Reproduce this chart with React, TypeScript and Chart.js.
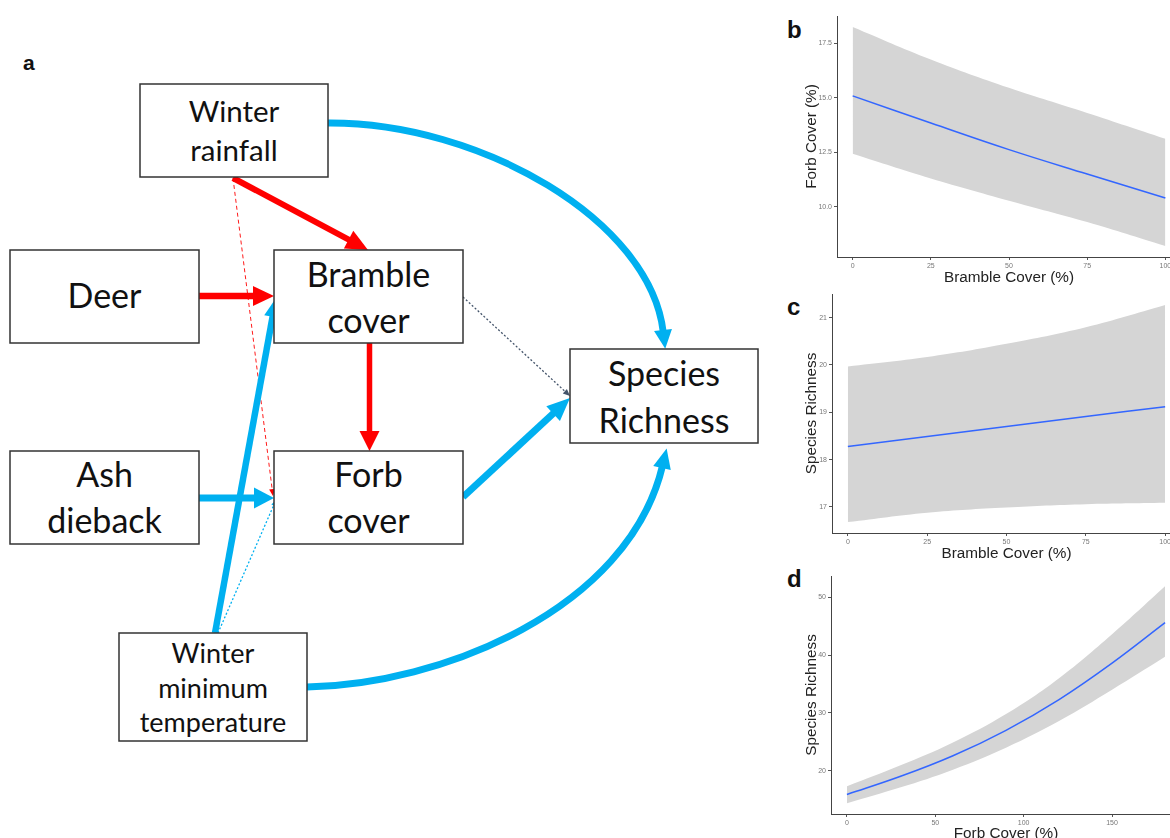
import React, { useEffect, useRef } from "react";
import Chart from "chart.js/auto";

// ---------- Panel b: Forb cover vs Bramble cover ----------
const bX = [0, 25, 50, 75, 100];
const bFit = [15.08, 13.84, 12.62, 11.5, 10.4];
const bUpper = [18.24, 16.75, 15.45, 14.3, 13.12];
const bLower = [12.43, 11.3, 10.28, 9.3, 8.2];
const bXTicks = [0, 25, 50, 75, 100];
const bYTicks = [10, 12.5, 15, 17.5];

// ---------- Panel c: Species richness vs Bramble cover ----------
const cX = [0, 25, 50, 75, 100];
const cFit = [18.28, 18.49, 18.7, 18.91, 19.12];
const cUpper = [19.97, 20.17, 20.45, 20.8, 21.27];
const cLower = [16.68, 16.88, 16.99, 17.06, 17.09];
const cXTicks = [0, 25, 50, 75, 100];
const cYTicks = [17, 18, 19, 20, 21];

// ---------- Panel d: Species richness vs Forb cover ----------
const dX = [0, 30, 60, 90, 120, 150, 180];
const dFit = [15.9, 19.0, 22.6, 27.0, 32.3, 38.6, 45.6];
const dUpper = [17.3, 20.9, 24.9, 29.8, 36.0, 43.6, 51.9];
const dLower = [14.4, 17.1, 20.2, 24.0, 28.6, 34.0, 39.7];
const dXTicks = [0, 50, 100, 150];
const dYTicks = [20, 30, 40, 50];

// ---------- Panel a: path diagram ----------
const nodeLabels: Record<string, string[]> = {
  rain: ["Winter", "rainfall"],
  deer: ["Deer"],
  bramble: ["Bramble", "cover"],
  ash: ["Ash", "dieback"],
  forb: ["Forb", "cover"],
  temp: ["Winter", "minimum", "temperature"],
  rich: ["Species", "Richness"],
};

const RED = "#FF0000";
const BLUE = "#00B0F0";
const NAVY = "#44546A";

const nodeLayout: Record<string, { x: number; y: number; w: number; h: number; fs: number; base: number; gap: number }> = {
  rain: { x: 140, y: 84, w: 188, h: 93, fs: 29.5, base: 122, gap: 39 },
  deer: { x: 10, y: 250, w: 189, h: 93, fs: 34, base: 308, gap: 0 },
  bramble: { x: 274, y: 250, w: 189, h: 93, fs: 34, base: 287, gap: 46 },
  ash: { x: 10, y: 451, w: 189, h: 93, fs: 34, base: 487, gap: 46 },
  forb: { x: 274, y: 451, w: 189, h: 93, fs: 34, base: 487, gap: 46 },
  temp: { x: 119, y: 633, w: 188, h: 108, fs: 27, base: 663, gap: 34.5 },
  rich: { x: 570, y: 349, w: 188, h: 94, fs: 34, base: 386, gap: 46.5 },
};

function headPoly(tx: number, ty: number, ux: number, uy: number, hl: number, hw: number) {
  const bx = tx - ux * hl, by = ty - uy * hl;
  const px = -uy, py = ux;
  return `${tx},${ty} ${bx + (px * hw) / 2},${by + (py * hw) / 2} ${bx - (px * hw) / 2},${by - (py * hw) / 2}`;
}

function Straight(p: { x1: number; y1: number; x2: number; y2: number; w: number; hl: number; hw: number; color: string; dash?: string }) {
  const dx = p.x2 - p.x1, dy = p.y2 - p.y1;
  const L = Math.hypot(dx, dy);
  const ux = dx / L, uy = dy / L;
  const ex = p.x2 - ux * p.hl * 0.85, ey = p.y2 - uy * p.hl * 0.85;
  return (
    <g>
      <line x1={p.x1} y1={p.y1} x2={ex} y2={ey} stroke={p.color} strokeWidth={p.w} strokeDasharray={p.dash} />
      <polygon points={headPoly(p.x2, p.y2, ux, uy, p.hl, p.hw)} fill={p.color} />
    </g>
  );
}

function Curve(p: { pts: number[]; w: number; hl: number; hw: number; color: string }) {
  const [x0, y0, x1, y1, x2, y2, x3, y3] = p.pts;
  const dx = x3 - x2, dy = y3 - y2;
  const L = Math.hypot(dx, dy);
  const ux = dx / L, uy = dy / L;
  const tx = x3 + ux * p.hl, ty = y3 + uy * p.hl;
  return (
    <g>
      <path d={`M${x0},${y0} C${x1},${y1} ${x2},${y2} ${x3 + ux * 2},${y3 + uy * 2}`} stroke={p.color} strokeWidth={p.w} fill="none" />
      <polygon points={headPoly(tx, ty, ux, uy, p.hl, p.hw)} fill={p.color} />
    </g>
  );
}

type PanelSpec = {
  xs: number[]; fit: number[]; up: number[]; lo: number[];
  xMin: number; xMax: number; yMin: number; yMax: number;
  xTicks: number[]; yTicks: number[]; yDec: number;
  xTitle: string; yTitle: string;
  left: number; top: number; width: number; height: number; padTop: number; yW: number; xH: number;
};

const panels: PanelSpec[] = [
  { xs: bX, fit: bFit, up: bUpper, lo: bLower, xMin: -5, xMax: 105, yMin: 7.7, yMax: 18.74, xTicks: bXTicks, yTicks: bYTicks, yDec: 1,
    xTitle: "Bramble Cover (%)", yTitle: "Forb Cover (%)", left: 800, top: 12, width: 381, height: 278, padTop: 4, yW: 37, xH: 33 },
  { xs: cX, fit: cFit, up: cUpper, lo: cLower, xMin: -5, xMax: 105, yMin: 16.45, yMax: 21.5, xTicks: cXTicks, yTicks: cYTicks, yDec: 0,
    xTitle: "Bramble Cover (%)", yTitle: "Species Richness", left: 800, top: 290, width: 381, height: 276, padTop: 4, yW: 32, xH: 33 },
  { xs: dX, fit: dFit, up: dUpper, lo: dLower, xMin: -9, xMax: 189, yMin: 12.53, yMax: 53.67, xTicks: dXTicks, yTicks: dYTicks, yDec: 0,
    xTitle: "Forb Cover (%)", yTitle: "Species Richness", left: 800, top: 572, width: 381, height: 274, padTop: 4, yW: 31, xH: 32 },
];

function PanelChart({ spec }: { spec: PanelSpec }) {
  const ref = useRef<HTMLCanvasElement>(null);
  useEffect(() => {
    if (!ref.current) return;
    const pts = (arr: number[]) => spec.xs.map((x, i) => ({ x, y: arr[i] }));
    const tickFont = { size: 7, family: "Liberation Sans" };
    const titleFont = { size: 15.3, family: "Liberation Sans" };
    const chart = new Chart(ref.current, {
      type: "line",
      data: {
        datasets: [
          { data: pts(spec.fit), borderColor: "#3366FF", borderWidth: 1.5, pointRadius: 0, fill: false, tension: 0.4 },
          { data: pts(spec.up), borderWidth: 0, borderColor: "rgba(0,0,0,0)", pointRadius: 0, fill: "+1", backgroundColor: "#D5D5D5", tension: 0.4 },
          { data: pts(spec.lo), borderWidth: 0, borderColor: "rgba(0,0,0,0)", pointRadius: 0, fill: false, tension: 0.4 },
        ],
      },
      options: {
        responsive: false,
        animation: false,
        events: [],
        layout: { padding: { top: spec.padTop, left: 0, right: 0, bottom: 0 } },
        plugins: { legend: { display: false }, tooltip: { enabled: false } },
        scales: {
          x: {
            type: "linear", min: spec.xMin, max: spec.xMax,
            afterBuildTicks: (s: any) => { s.ticks = spec.xTicks.map((v) => ({ value: v })); },
            afterFit: (s: any) => { s.height = spec.xH; s.paddingLeft = 0; s.paddingRight = 0; },
            grid: { display: true, drawOnChartArea: false, drawTicks: true, tickLength: 3, color: "#555" },
            border: { display: true, color: "#444", width: 1 },
            ticks: { font: tickFont, color: "#777", padding: 2, maxRotation: 0, autoSkip: false, callback: (v: any) => String(v) },
            title: { display: true, text: spec.xTitle, font: titleFont, color: "#222", padding: { top: 0, bottom: 3 } },
          },
          y: {
            type: "linear", min: spec.yMin, max: spec.yMax,
            afterBuildTicks: (s: any) => { s.ticks = spec.yTicks.map((v) => ({ value: v })); },
            afterFit: (s: any) => { s.width = spec.yW; s.paddingTop = 0; s.paddingBottom = 0; },
            grid: { display: true, drawOnChartArea: false, drawTicks: true, tickLength: 3, color: "#555" },
            border: { display: true, color: "#444", width: 1 },
            ticks: { font: tickFont, color: "#777", padding: 2, autoSkip: false, callback: (v: any) => Number(v).toFixed(spec.yDec) },
            title: { display: true, text: spec.yTitle, font: titleFont, color: "#222", padding: { top: 3, bottom: 0 } },
          },
        },
      } as any,
    });
    return () => chart.destroy();
  }, [spec]);
  return (
    <canvas
      ref={ref}
      width={spec.width}
      height={spec.height}
      style={{ position: "absolute", left: spec.left, top: spec.top, width: spec.width, height: spec.height }}
    />
  );
}

export default function App() {
  return (
    <div style={{ position: "absolute", left: 0, top: 0, width: 1170, height: 838, overflow: "hidden", background: "#fff" }}>
      <svg width={1170} height={838} style={{ position: "absolute", left: 0, top: 0 }}>
        <text x={23} y={70} fontFamily="Liberation Sans" fontWeight="bold" fontSize={21} fill="#111">a</text>
        <text x={787} y={38} fontFamily="Liberation Sans" fontWeight="bold" fontSize={24} fill="#111">b</text>
        <text x={787} y={315} fontFamily="Liberation Sans" fontWeight="bold" fontSize={24} fill="#111">c</text>
        <text x={787} y={587} fontFamily="Liberation Sans" fontWeight="bold" fontSize={24} fill="#111">d</text>

        {/* arrows */}
        <Straight x1={233} y1={178} x2={273} y2={496} w={0.9} hl={7} hw={6} color={RED} dash="4,3" />
        <Straight x1={218} y1={633} x2={276} y2={500} w={1.3} hl={6} hw={5} color={BLUE} dash="2,2" />
        <Straight x1={463} y1={297} x2={570} y2={396} w={1.3} hl={7} hw={6} color={NAVY} dash="2,2" />
        <Straight x1={233} y1={178} x2={368} y2={250} w={6} hl={22} hw={20} color={RED} />
        <Straight x1={199} y1={296} x2={274} y2={296} w={6.5} hl={21} hw={20} color={RED} />
        <Straight x1={369.5} y1={343} x2={369.5} y2={451} w={5.5} hl={20} hw={20} color={RED} />
        <Straight x1={199} y1={498} x2={274} y2={498} w={7} hl={20} hw={21} color={BLUE} />
        <Straight x1={215} y1={633} x2={276} y2={298} w={6.5} hl={19} hw={17} color={BLUE} />
        <Straight x1={463} y1={497} x2={570} y2={398} w={7} hl={23} hw={20} color={BLUE} />
        <Curve pts={[328, 123, 480, 122, 650, 220, 663, 330]} w={6.8} hl={19} hw={18} color={BLUE} />
        <Curve pts={[307, 687, 440, 685, 628, 610, 662, 468]} w={7} hl={20} hw={18} color={BLUE} />

        {/* boxes */}
        {Object.keys(nodeLabels).map((k) => {
          const L = nodeLayout[k];
          return (
            <g key={k}>
              <rect x={L.x} y={L.y} width={L.w} height={L.h} fill="#fff" stroke="#333" strokeWidth={1.5} />
              {nodeLabels[k].map((t, i) => (
                <text key={i} x={L.x + L.w / 2} y={L.base + i * L.gap} textAnchor="middle" fontFamily="Lato" fontSize={L.fs} fill="#111">
                  {t}
                </text>
              ))}
            </g>
          );
        })}
      </svg>
      {panels.map((p, i) => (
        <PanelChart key={i} spec={p} />
      ))}
    </div>
  );
}
